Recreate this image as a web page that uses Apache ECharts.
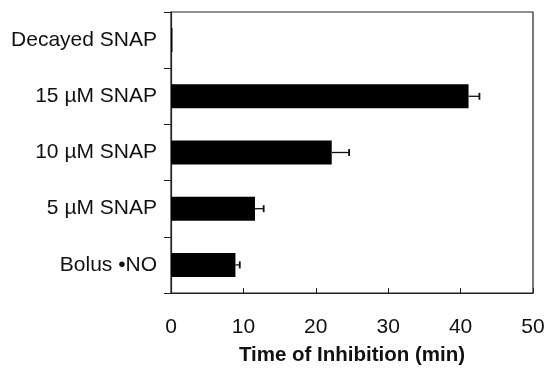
<!DOCTYPE html>
<html>
<head>
<meta charset="utf-8">
<script src="https://cdn.jsdelivr.net/npm/echarts@6/dist/echarts.min.js"></script>
<style>
  html, body { margin: 0; padding: 0; background: #fff; }
  #chart { width: 548px; height: 368px; }
</style>
</head>
<body>
<div id="chart"></div>
<script>
// Treatment groups, listed top to bottom
const categories = ['Decayed SNAP', '15 µM SNAP', '10 µM SNAP', '5 µM SNAP', 'Bolus •NO'];
// Mean time of inhibition (min)
const inhibitionTime = [0.2, 41.1, 22.2, 11.6, 8.9];
// Error (min), drawn on the positive side only
const inhibitionError = [0, 1.5, 2.4, 1.2, 0.6];
// X axis ticks
const xTicks = [0, 10, 20, 30, 40, 50];

const font = '"Liberation Sans", Arial, sans-serif';
const chart = echarts.init(document.getElementById('chart'), null, { renderer: 'canvas' });

const errorData = inhibitionTime.map((v, i) => [i, v, inhibitionError[i]]);

chart.setOption({
  animation: false,
  backgroundColor: '#fff',
  grid: {
    left: 171, right: 15, top: 12, bottom: 75,
    outerBoundsMode: 'none', containLabel: false,
    show: true, borderColor: '#222', borderWidth: 1.2
  },
  xAxis: {
    type: 'value',
    min: xTicks[0],
    max: xTicks[xTicks.length - 1],
    interval: 10,
    name: 'Time of Inhibition (min)',
    nameLocation: 'middle',
    nameGap: 52,
    nameTextStyle: { fontFamily: font, fontSize: 20.5, fontWeight: 'bold', color: '#111' },
    axisLine: { show: true, lineStyle: { color: '#222', width: 1.2 } },
    axisTick: { show: true, inside: true, length: 5, lineStyle: { color: '#222' } },
    axisLabel: { fontFamily: font, fontSize: 21, color: '#111', margin: 24 },
    splitLine: { show: false }
  },
  yAxis: {
    type: 'category',
    data: categories,
    inverse: true,
    axisLine: { show: true, lineStyle: { color: '#222', width: 1.2 } },
    axisTick: { show: true, length: 7, lineStyle: { color: '#222' } },
    axisLabel: { fontFamily: font, fontSize: 21, color: '#111', margin: 14 },
    splitLine: { show: false }
  },
  series: [
    {
      type: 'bar',
      data: inhibitionTime,
      barWidth: 24,
      itemStyle: { color: '#000' }
    },
    {
      type: 'custom',
      data: errorData,
      encode: { x: 1, y: 0 },
      z: 5,
      renderItem: function (params, api) {
        const idx = api.value(0);
        const v = api.value(1);
        const e = api.value(2);
        if (!e) return null;
        const p0 = api.coord([v, idx]);
        const p1 = api.coord([v + e, idx]);
        const cap = 3.5;
        return {
          type: 'group',
          children: [
            { type: 'line', shape: { x1: p0[0], y1: p0[1], x2: p1[0], y2: p1[1] }, style: { stroke: '#111', lineWidth: 1.3 } },
            { type: 'line', shape: { x1: p1[0], y1: p1[1] - cap, x2: p1[0], y2: p1[1] + cap }, style: { stroke: '#111', lineWidth: 1.8 } }
          ]
        };
      }
    }
  ]
});
</script>
</body>
</html>
